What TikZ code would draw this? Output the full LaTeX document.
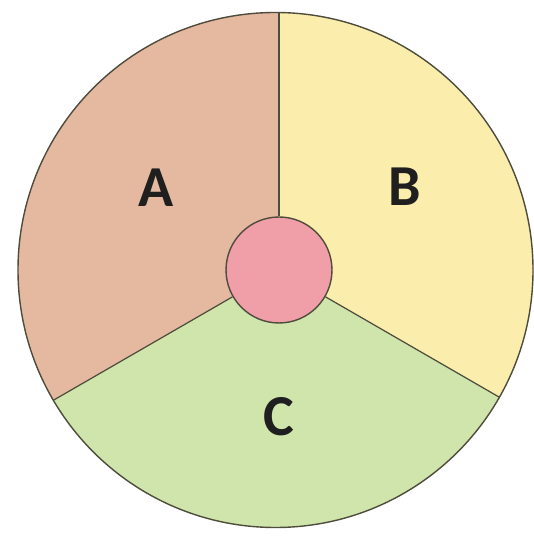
\documentclass[tikz,border=0pt]{standalone}
\usepackage{fontspec}
\setmainfont{Carlito}
\usepackage{xcolor}
\usepackage{tikz}
\usetikzlibrary{calc}
\definecolor{secA}{RGB}{229,184,160}
\definecolor{secB}{RGB}{251,237,172}
\definecolor{secC}{RGB}{207,229,172}
\definecolor{hubc}{RGB}{240,158,168}
\definecolor{linec}{RGB}{78,76,60}

\begin{document}
\begin{tikzpicture}[
      x=0.02cm,y=0.02cm,
      rim/.style={draw=linec,line width=0.8pt},
      spoke/.style={draw=linec,line width=0.7pt},
      hub/.style={circle,draw=linec,fill=hubc,line width=0.8pt,minimum size=2.12cm,inner sep=0pt},
      lbl/.style={font=\fontsize{33}{33}\selectfont\bfseries,text=black!88}]
    \useasboundingbox (0,0) rectangle (533,536);
    \coordinate (O) at (279,266);
    \coordinate (R) at (275.5,266);
    % sectors
    \begin{scope}
      \clip (R) circle (257.5);
      \fill[secA] (O) -- ++(90:400) arc[start angle=90,end angle=210,radius=400] -- cycle;
      \fill[secB] (O) -- ++(-30:400) arc[start angle=-30,end angle=90,radius=400] -- cycle;
      \fill[secC] (O) -- ++(210:400) arc[start angle=210,end angle=330,radius=400] -- cycle;
    \end{scope}
    \draw[rim] (R) circle (257.5);
    \coordinate (rimT) at ($(O)+(90:257.5)$);
    \coordinate (rimL) at ($(O)+(210:260.5)$);
    \coordinate (rimR) at ($(O)+(330:254.5)$);
    \node[hub] (H) at (O) {};
    \draw[spoke] (H.90) -- (rimT);
    \draw[spoke] (H.210) -- (rimL);
    \draw[spoke] (H.330) -- (rimR);
    \node[lbl] (A) at (156,348) {A};
    \node[lbl] (B) at (405,349) {B};
    \node[lbl] (C) at (279,119) {C};
  \end{tikzpicture}
\end{document}
